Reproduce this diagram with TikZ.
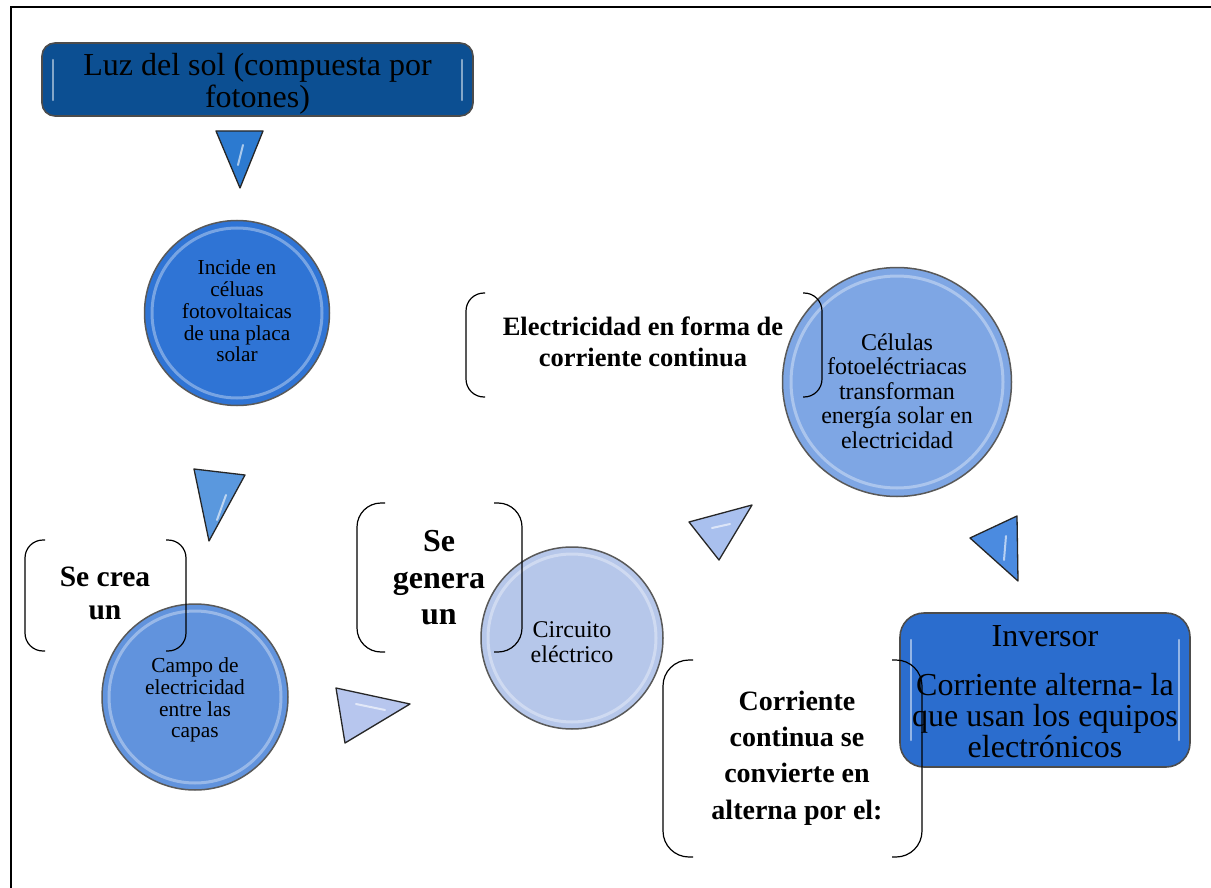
\documentclass[tikz,border=0pt]{standalone}
\usepackage{fontspec}
\setmainfont{Liberation Serif}
\definecolor{sunblue}{HTML}{0C4F92}
\definecolor{invblue}{HTML}{2B6DCE}
\definecolor{cOne}{HTML}{2F74D5}
\definecolor{cTwo}{HTML}{6193DD}
\definecolor{cThree}{HTML}{B6C7EA}
\definecolor{cFour}{HTML}{7EA6E4}
\definecolor{tOne}{HTML}{2C7AD0}
\definecolor{tTwo}{HTML}{5A98DE}
\definecolor{tThree}{HTML}{B7C6EE}
\definecolor{tFour}{HTML}{A9C0EE}
\definecolor{tFive}{HTML}{4B8BE0}
\tikzset{
  glossbox/.style={rectangle, rounded corners=13pt, draw=black!70, line width=1.6pt, inner sep=0pt, align=center},
  bubble/.style={circle, draw=black!65, line width=1.5pt, inner sep=0pt},
  ctext/.style={align=center, inner sep=0pt},
  btext/.style={align=center, inner sep=0pt},
  brk/.style={line width=1.2pt, black},
  tri/.style={draw=black!85, line width=1.3pt, line join=round}
}
\begin{document}
\begin{tikzpicture}[x=1pt,y=-1pt]
\useasboundingbox (0,0) rectangle (1211,888);
\fill[white] (0,0) rectangle (1211,888);
% frame
\coordinate (fr1) at (1211,7);
\coordinate (fr2) at (11,7);
\coordinate (fr3) at (11,888);
\draw[line width=2pt] (fr1) -- (fr2) -- (fr3);

% top box
\node[glossbox, fill=sunblue, minimum width=431pt, minimum height=73pt] (sun) at (257.5,79.5) {};
\draw[white, opacity=0.5, line width=2.5pt, line cap=round] (53,60) -- (53,100);
\draw[white, opacity=0.5, line width=2.5pt, line cap=round] (462,60) -- (462,100);
\node[align=center, inner sep=0pt, font=\fontsize{32}{32}\selectfont] (suntxt) at (257.5,83.5) {Luz del sol (compuesta por\\fotones)};

% triangles
\filldraw[tri, fill=tOne] (216,131) -- (263,131) -- (240,188) -- cycle;
\filldraw[tri, fill=tTwo] (194,469) -- (245,475) -- (209,541) -- cycle;
\filldraw[tri, fill=tThree] (336,688) -- (410,704) -- (345,743) -- cycle;
\filldraw[tri, fill=tFour] (689,522) -- (752,505) -- (719,560) -- cycle;
\filldraw[tri, fill=tFive] (970,538) -- (1017,516) -- (1018,581) -- cycle;
\draw[white, opacity=0.6, line width=2pt, line cap=round] (243,145) -- (238,165);
\draw[white, opacity=0.6, line width=2pt, line cap=round] (226,495) -- (217,520);
\draw[white, opacity=0.6, line width=2pt, line cap=round] (356,704) -- (385,710);
\draw[white, opacity=0.6, line width=2pt, line cap=round] (712,528) -- (730,524);
\draw[white, opacity=0.6, line width=2pt, line cap=round] (1006,536) -- (1004,560);

% circles
\node[bubble, fill=cOne, minimum size=185pt] (c1) at (237,313) {};
\node[bubble, fill=cTwo, minimum size=186pt] (c2) at (195,697) {};
\node[bubble, fill=cThree, minimum size=182pt] (c3) at (572,638) {};
\node[bubble, fill=cFour, minimum size=229pt] (c4) at (897,382) {};
\foreach \c/\r in {c1/85, c2/86, c3/84, c4/106}{
  \draw[white, opacity=0.35, line width=3pt] (\c) circle (\r pt);
}
\node[ctext, font=\fontsize{21.3}{21.75}\selectfont] (t1) at (237,311) {Incide en\\céluas\\fotovoltaicas\\de una placa\\solar};
\node[ctext, font=\fontsize{21.4}{21.7}\selectfont] (t2) at (195,700) {Campo de\\electricidad\\entre las\\capas};
\node[ctext, font=\fontsize{24}{25}\selectfont] (t3) at (572,642) {Circuito\\eléctrico};
\node[ctext, font=\fontsize{24}{24.5}\selectfont] (t4) at (897,391) {Células\\fotoeléctriacas\\transforman\\energía solar en\\electricidad};

% inversor box
\node[glossbox, fill=invblue, rounded corners=24pt, minimum width=290pt, minimum height=154pt] (inv) at (1045,690) {};
\draw[white, opacity=0.5, line width=2.5pt, line cap=round] (911,640) -- (911,740);
\draw[white, opacity=0.5, line width=2.5pt, line cap=round] (1179,640) -- (1179,740);
\node[align=center, inner sep=0pt, font=\fontsize{32}{31}\selectfont] (invtxt) at (1045,691.5) {Inversor\\[18pt]Corriente alterna- la\\que usan los equipos\\electrónicos};

% brackets
\coordinate (b1a) at (45,540); \coordinate (b1b) at (25,540); \coordinate (b1c) at (25,651); \coordinate (b1d) at (45,651);
\coordinate (b1e) at (166,540); \coordinate (b1f) at (186,540); \coordinate (b1g) at (186,651); \coordinate (b1h) at (166,651);
\draw[brk, rounded corners=18pt] (b1a) -- (b1b) -- (b1c) -- (b1d);
\draw[brk, rounded corners=18pt] (b1e) -- (b1f) -- (b1g) -- (b1h);
\node[btext, font=\bfseries\fontsize{29.5}{33}\selectfont] (s1) at (105,593) {Se crea\\un};

\coordinate (b2a) at (385,503); \coordinate (b2b) at (357,503); \coordinate (b2c) at (357,652); \coordinate (b2d) at (385,652);
\coordinate (b2e) at (494,503); \coordinate (b2f) at (522,503); \coordinate (b2g) at (522,652); \coordinate (b2h) at (494,652);
\draw[brk, rounded corners=24pt] (b2a) -- (b2b) -- (b2c) -- (b2d);
\draw[brk, rounded corners=24pt] (b2e) -- (b2f) -- (b2g) -- (b2h);
\node[btext, font=\bfseries\fontsize{32}{36.5}\selectfont] (s2) at (439,578) {Se\\genera\\un};

\coordinate (b3a) at (485,293); \coordinate (b3b) at (466,293); \coordinate (b3c) at (466,397); \coordinate (b3d) at (485,397);
\coordinate (b3e) at (803,293); \coordinate (b3f) at (822,293); \coordinate (b3g) at (822,397); \coordinate (b3h) at (803,397);
\draw[brk, rounded corners=18pt] (b3a) -- (b3b) -- (b3c) -- (b3d);
\draw[brk, rounded corners=18pt] (b3e) -- (b3f) -- (b3g) -- (b3h);
\node[btext, font=\bfseries\fontsize{26.5}{31}\selectfont] (s3) at (643,342) {Electricidad en forma de\\corriente continua};

\coordinate (b4a) at (693,660); \coordinate (b4b) at (663,660); \coordinate (b4c) at (663,857); \coordinate (b4d) at (693,857);
\coordinate (b4e) at (892,660); \coordinate (b4f) at (922,660); \coordinate (b4g) at (922,857); \coordinate (b4h) at (892,857);
\draw[brk, rounded corners=26pt] (b4a) -- (b4b) -- (b4c) -- (b4d);
\draw[brk, rounded corners=26pt] (b4e) -- (b4f) -- (b4g) -- (b4h);
\node[btext, font=\bfseries\fontsize{28}{36.3}\selectfont] (s4) at (797,758) {Corriente\\continua se\\convierte en\\alterna por el:};
\end{tikzpicture}
\end{document}
